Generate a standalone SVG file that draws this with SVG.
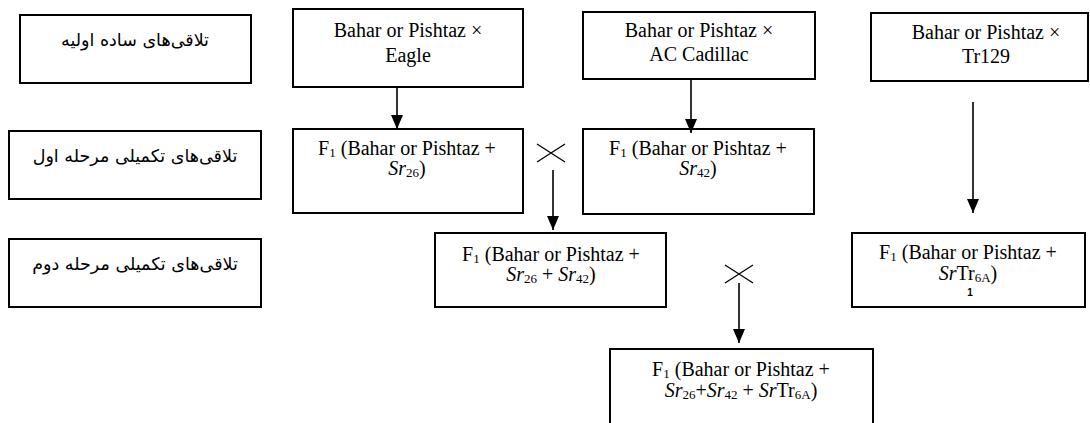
<svg xmlns="http://www.w3.org/2000/svg" width="1090" height="423" viewBox="0 0 1090 423">
<style>
.box{fill:#fff;stroke:#000;stroke-width:2}
.t{font-family:"Liberation Serif","Times New Roman",serif;font-size:20px;fill:#000;text-anchor:middle}
.fa{font-family:"DejaVu Sans","Noto Sans",sans-serif;font-size:17.5px;fill:#000;text-anchor:middle}
.sub{font-size:13px}
.small{font-family:"Liberation Sans",Arial,sans-serif;font-size:10px;font-weight:bold;fill:#000;text-anchor:middle}
.ln{stroke:#000;stroke-width:1.6;fill:none}
.x{stroke:#000;stroke-width:1.3;fill:none}
</style>
<defs>
<marker id="ah" viewBox="0 0 14 12" refX="14" refY="6" markerWidth="14" markerHeight="12" markerUnits="userSpaceOnUse" orient="auto">
<path d="M0,0 L14,6 L0,12 Z" fill="#000"/>
</marker>
</defs>
<g id="label-simple">
<rect class="box" x="20" y="15" width="231" height="68"/>
<text class="fa" x="135" y="46" direction="rtl">تلاقی‌های ساده اولیه</text>
</g>
<g id="label-stage1">
<rect class="box" x="9" y="131" width="252" height="68"/>
<text class="fa" x="135" y="162" direction="rtl">تلاقی‌های تکمیلی مرحله اول</text>
</g>
<g id="label-stage2">
<rect class="box" x="9" y="239" width="252" height="68"/>
<text class="fa" x="135" y="270" direction="rtl">تلاقی‌های تکمیلی مرحله دوم</text>
</g>
<g id="cross-eagle">
<rect class="box" x="293" y="9" width="230" height="78"/>
<text class="t" x="408" y="37">Bahar or Pishtaz ×</text>
<text class="t" x="408" y="62">Eagle</text>
</g>
<g id="cross-ac">
<rect class="box" x="583" y="12" width="232" height="67"/>
<text class="t" x="699" y="37">Bahar or Pishtaz ×</text>
<text class="t" x="699" y="61">AC Cadillac</text>
</g>
<g id="cross-tr129">
<rect class="box" x="871" y="13" width="217" height="68"/>
<text class="t" x="986" y="39">Bahar or Pishtaz ×</text>
<text class="t" x="986" y="63">Tr129</text>
</g>
<g id="f1-sr26">
<rect class="box" x="293" y="129" width="230" height="84"/>
<text class="t" x="407" y="155">F<tspan class="sub" dy="2">1</tspan><tspan dy="-2"> (Bahar or Pishtaz +</tspan></text>
<text class="t" x="407" y="175"><tspan font-style="italic">Sr</tspan><tspan class="sub" dy="2">26</tspan><tspan dy="-2">)</tspan></text>
</g>
<g id="f1-sr42">
<rect class="box" x="583" y="129" width="231" height="85"/>
<text class="t" x="698" y="155">F<tspan class="sub" dy="2">1</tspan><tspan dy="-2"> (Bahar or Pishtaz +</tspan></text>
<text class="t" x="698" y="175"><tspan font-style="italic">Sr</tspan><tspan class="sub" dy="2">42</tspan><tspan dy="-2">)</tspan></text>
</g>
<g id="f1-sr26-sr42">
<rect class="box" x="435" y="233" width="231" height="74"/>
<text class="t" x="551" y="261">F<tspan class="sub" dy="2">1</tspan><tspan dy="-2"> (Bahar or Pishtaz +</tspan></text>
<text class="t" x="551" y="281"><tspan font-style="italic">Sr</tspan><tspan class="sub" dy="2">26</tspan><tspan dy="-2"> + </tspan><tspan font-style="italic">Sr</tspan><tspan class="sub" dy="2">42</tspan><tspan dy="-2">)</tspan></text>
</g>
<g id="f1-srtr6a">
<rect class="box" x="852" y="233" width="233" height="74"/>
<text class="t" x="968" y="259">F<tspan class="sub" dy="2">1</tspan><tspan dy="-2"> (Bahar or Pishtaz +</tspan></text>
<text class="t" x="968" y="280"><tspan font-style="italic">Sr</tspan><tspan>Tr</tspan><tspan class="sub" dy="2">6A</tspan><tspan dy="-2">)</tspan></text>
<text class="small" x="970" y="296">1</text>
</g>
<g id="f1-final">
<rect class="box" x="610" y="349" width="263" height="80"/>
<text class="t" x="741" y="376">F<tspan class="sub" dy="2">1</tspan><tspan dy="-2"> (Bahar or Pishtaz +</tspan></text>
<text class="t" x="741" y="397"><tspan font-style="italic">Sr</tspan><tspan class="sub" dy="2">26</tspan><tspan dy="-2">+</tspan><tspan font-style="italic">Sr</tspan><tspan class="sub" dy="2">42</tspan><tspan dy="-2"> + </tspan><tspan font-style="italic">Sr</tspan><tspan>Tr</tspan><tspan class="sub" dy="2">6A</tspan><tspan dy="-2">)</tspan></text>
</g>
<g id="connectors">
<line class="ln" x1="397" y1="87" x2="397" y2="129" marker-end="url(#ah)"/>
<line class="ln" x1="691" y1="79" x2="691" y2="133" marker-end="url(#ah)"/>
<line class="ln" x1="973" y1="102" x2="973" y2="213" marker-end="url(#ah)"/>
<path class="x" d="M537,144 L565,162 M537,162 L565,144"/>
<line class="ln" x1="553" y1="170" x2="553" y2="230" marker-end="url(#ah)"/>
<path class="x" d="M725,265 L753,283 M725,283 L753,265"/>
<line class="ln" x1="739" y1="283" x2="739" y2="343" marker-end="url(#ah)"/>
</g>
</svg>
